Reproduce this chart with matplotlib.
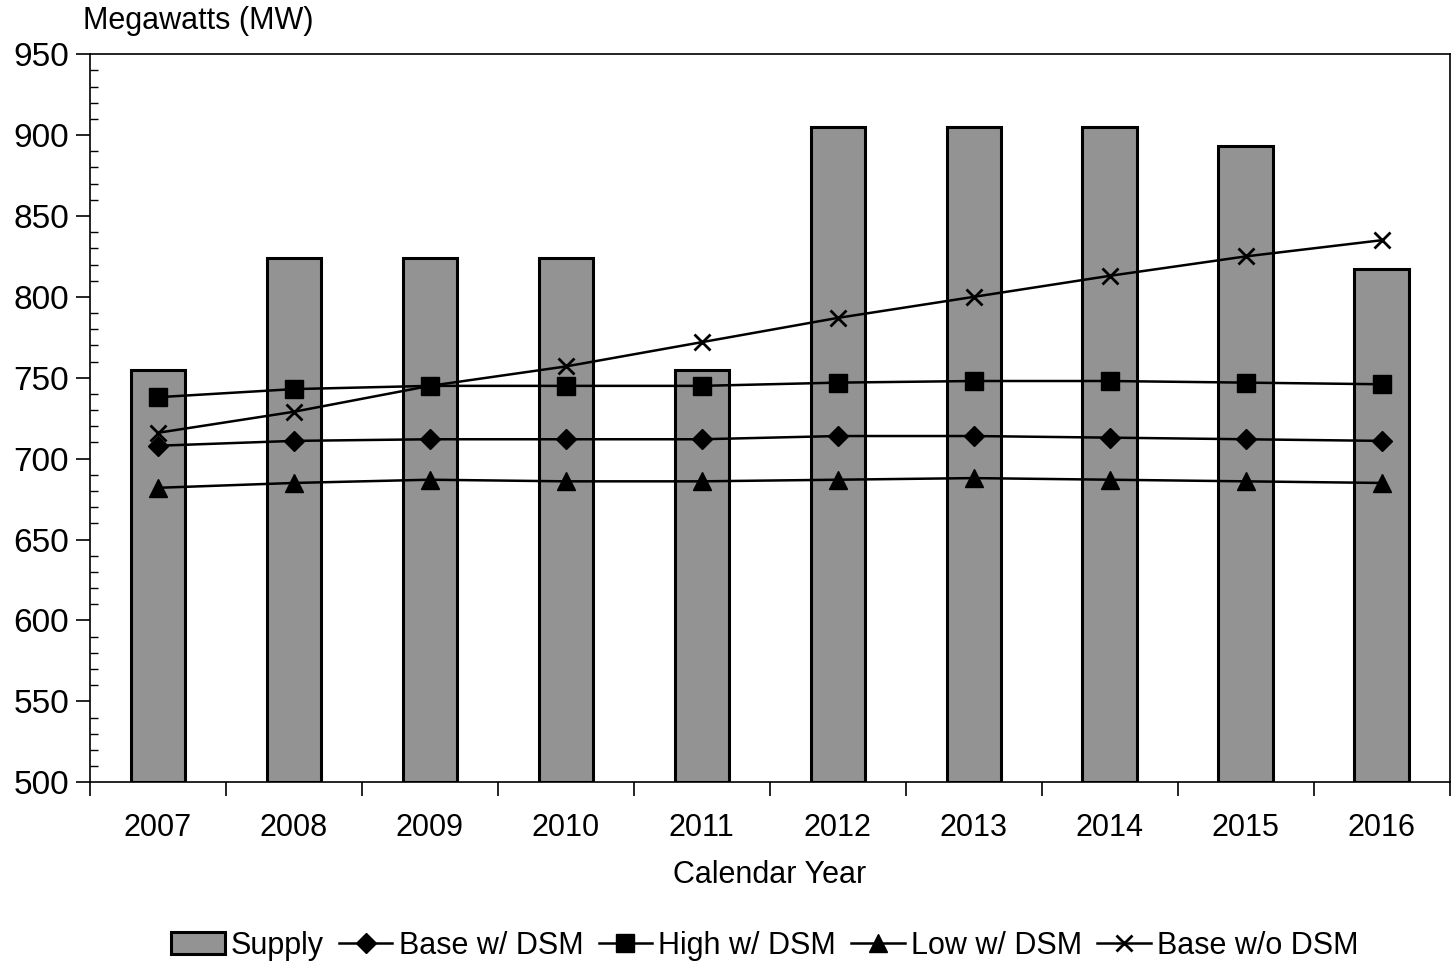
import matplotlib
matplotlib.use("Agg")
import matplotlib.pyplot as plt
import numpy as np
from matplotlib.ticker import MultipleLocator, FixedLocator

plt.rcParams['font.family'] = ['Liberation Sans', 'DejaVu Sans']

years = ['2007', '2008', '2009', '2010', '2011', '2012', '2013', '2014', '2015', '2016']
supply = [755, 824, 824, 824, 755, 905, 905, 905, 893, 817]
base_dsm = [708, 711, 712, 712, 712, 714, 714, 713, 712, 711]
high_dsm = [738, 743, 745, 745, 745, 747, 748, 748, 747, 746]
low_dsm = [682, 685, 687, 686, 686, 687, 688, 687, 686, 685]
base_no_dsm = [716, 729, 745, 757, 772, 787, 800, 813, 825, 835]

fig = plt.figure(figsize=(14.51, 9.67), dpi=100)
ax = fig.add_axes([0.062, 0.191, 0.937, 0.753])

x = np.arange(len(years))
bars = ax.bar(x, np.array(supply) - 500, bottom=500, width=0.4, color='#939393',
              edgecolor='black', linewidth=2.2, label='Supply', zorder=1)
l1, = ax.plot(x, base_dsm, color='black', lw=1.8, marker='D', ms=10, label='Base w/ DSM', zorder=3)
l2, = ax.plot(x, high_dsm, color='black', lw=1.8, marker='s', ms=13, label='High w/ DSM', zorder=3)
l3, = ax.plot(x, low_dsm, color='black', lw=1.8, marker='^', ms=13, label='Low w/ DSM', zorder=3)
l4, = ax.plot(x, base_no_dsm, color='black', lw=1.8, marker='x', ms=12, mew=2, label='Base w/o DSM', zorder=3)

ax.set_xlim(-0.5, len(years) - 0.5)
ax.set_ylim(500, 950)
ax.yaxis.set_major_locator(MultipleLocator(50))
ax.yaxis.set_minor_locator(MultipleLocator(10))
ax.tick_params(axis='y', which='major', direction='out', length=10, width=1.2, labelsize=24, pad=5)
ax.tick_params(axis='y', which='minor', direction='in', length=6, width=1)

ax.set_xticks(x)
ax.set_xticklabels(years)
ax.xaxis.set_minor_locator(FixedLocator(np.arange(-0.5, len(years), 1.0)))
ax.tick_params(axis='x', which='major', length=0, labelsize=22, pad=22)
ax.tick_params(axis='x', which='minor', direction='out', length=10, width=1.2)
ax.set_xlabel('Calendar Year', fontsize=22, labelpad=12)

for s in ax.spines.values():
    s.set_linewidth(1.2)

fig.text(0.057, 0.978, 'Megawatts (MW)', fontsize=22, ha='left', va='center')

leg = fig.legend([bars, l1, l2, l3, l4],
                 ['Supply', 'Base w/ DSM', 'High w/ DSM', 'Low w/ DSM', 'Base w/o DSM'],
                 loc='center', bbox_to_anchor=(0.527, 0.022), ncol=5, frameon=False,
                 fontsize=22, handlelength=1.75, handletextpad=0.2, columnspacing=0.5,
                 borderaxespad=0)

fig.savefig('out.png', dpi=100)
